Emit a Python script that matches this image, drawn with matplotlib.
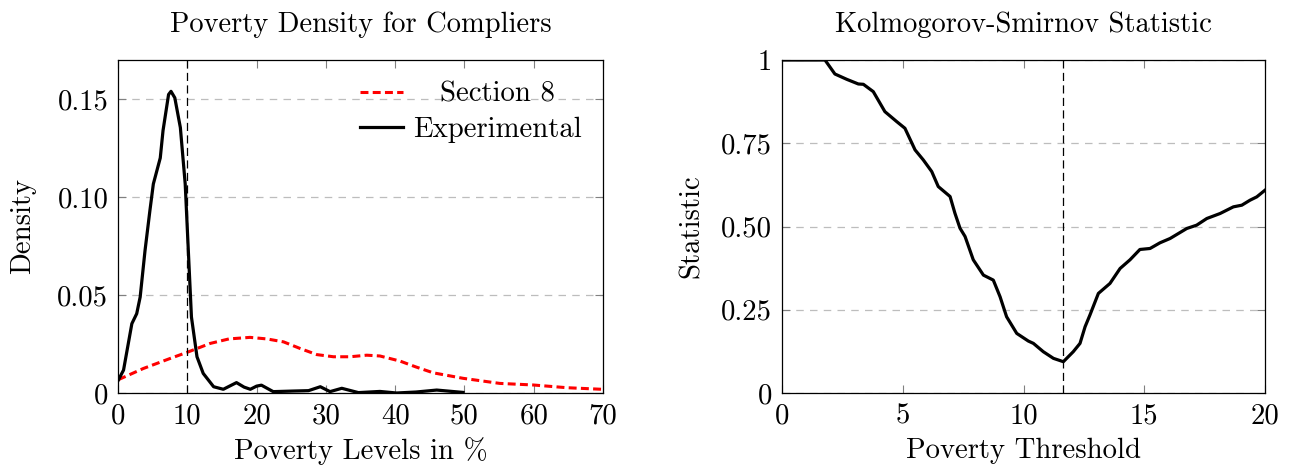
import matplotlib
matplotlib.use("Agg")
import matplotlib.pyplot as plt

plt.rcParams['font.family'] = ['cmr10', 'DejaVu Serif']
plt.rcParams['axes.formatter.use_mathtext'] = True
plt.rcParams['mathtext.fontset'] = 'cm'

# ---------------- data ----------------
exp_x = [0.05, 0.8, 2.0, 2.7, 3.2, 3.9, 4.6, 5.1, 6.1, 6.5, 7.3, 7.65, 8.2, 9.0, 9.7,
         10.15, 10.6, 11.4, 12.3, 13.8, 15.2, 17.1, 18.2, 19.1, 20.0, 20.7, 22.4, 25.3,
         27.5, 29.2, 30.6, 32.3, 34.7, 37.8, 40.2, 43.0, 46.0, 49.8]
exp_y = [0.0066, 0.0117, 0.0354, 0.0405, 0.049, 0.0727, 0.093, 0.1067, 0.120, 0.134,
         0.1524, 0.154, 0.1507, 0.1355, 0.1067, 0.0727, 0.0388, 0.0185, 0.010, 0.0032,
         0.0019, 0.0053, 0.0030, 0.0019, 0.0035, 0.004, 0.0007, 0.001, 0.0012, 0.0032,
         0.0007, 0.0024, 0.0002, 0.0008, 0.0, 0.0005, 0.0015, 0.0003]

s8_x = [0.05, 3.65, 7.5, 10.15, 13.3, 16.0, 19.05, 21.5, 23.9, 26.3, 28.7, 31.1, 33.5,
        35.9, 37.8, 40.7, 43.0, 45.5, 49.8, 55.1, 59.9, 64.8, 69.8]
s8_y = [0.0068, 0.0125, 0.0176, 0.021, 0.0253, 0.0276, 0.0284, 0.0276, 0.0261, 0.0227,
        0.0196, 0.0185, 0.0185, 0.0193, 0.0189, 0.0163, 0.0133, 0.0103, 0.0075, 0.0049,
        0.0041, 0.0027, 0.0019]

ks_x = [0.0, 0.5, 1.0, 1.5, 1.78, 2.19, 2.68, 3.16, 3.37, 3.78, 4.26, 4.75, 5.09, 5.51,
        5.85, 6.2, 6.47, 6.96, 7.16, 7.37, 7.58, 7.92, 8.34, 8.75, 9.03, 9.3, 9.72,
        10.2, 10.41, 10.82, 11.24, 11.65, 12.06, 12.34, 12.55, 12.75, 13.1, 13.58,
        14.0, 14.41, 14.82, 15.24, 15.65, 16.07, 16.76, 17.17, 17.59, 18.14, 18.69,
        19.04, 19.38, 19.66, 20.0]
ks_y = [1.0, 1.0, 1.0, 1.0, 1.0, 0.958, 0.942, 0.928, 0.927, 0.905, 0.845, 0.815,
        0.795, 0.73, 0.70, 0.665, 0.62, 0.59, 0.54, 0.495, 0.47, 0.40, 0.354, 0.339,
        0.289, 0.229, 0.179, 0.156, 0.149, 0.124, 0.104, 0.094, 0.124, 0.149, 0.199,
        0.234, 0.299, 0.329, 0.374, 0.40, 0.431, 0.434, 0.451, 0.464, 0.494, 0.504,
        0.524, 0.539, 0.559, 0.564, 0.579, 0.589, 0.609]

left_xticks = [0, 10, 20, 30, 40, 50, 60, 70]
left_yticks = [0, 0.05, 0.10, 0.15]
left_yticklabels = ['0', '0.05', '0.10', '0.15']
right_xticks = [0, 5, 10, 15, 20]
right_yticks = [0, 0.25, 0.5, 0.75, 1.0]
right_yticklabels = ['0', '0.25', '0.50', '0.75', '1']
left_vline = 10
right_vline = 11.65

# ---------------- figure ----------------
fig = plt.figure(figsize=(12.95, 4.72), dpi=100)
ax1 = fig.add_axes([118/1295, 79/472, 485/1295, 333/472])
ax2 = fig.add_axes([782/1295, 79/472, 483/1295, 333/472])

FS = 20.7
TFS = 20.5

def style(ax):
    for s in ax.spines.values():
        s.set_linewidth(0.9)
        s.set_color('black')
    ax.tick_params(direction='in', length=6, width=0.8, color='#808080',
                   top=True, right=True, labelsize=FS, pad=7)
    ax.grid(axis='y', linestyle=(0, (6, 5)), color='#bdbdbd', linewidth=0.9)
    ax.set_axisbelow(True)

# left
ax1.plot(s8_x, s8_y, color='#ff0000', linestyle=(0, (2.6, 1.4)), linewidth=2.2,
         label='Section 8', dash_capstyle='butt')
ax1.plot(exp_x, exp_y, color='black', linewidth=2.3, label='Experimental',
         solid_joinstyle='round')
ax1.axvline(left_vline, color='black', linestyle=(0, (6.5, 3.5)), linewidth=0.9)
ax1.set_xlim(0, 70)
ax1.set_ylim(0, 0.17)
ax1.set_xticks(left_xticks)
ax1.set_xticklabels([str(v) for v in left_xticks])
ax1.set_yticks(left_yticks)
ax1.set_yticklabels(left_yticklabels)
style(ax1)
ax1.set_title('Poverty Density for Compliers', fontsize=TFS, pad=20)
ax1.set_xlabel('Poverty Levels in %', fontsize=FS, labelpad=6)
ax1.set_ylabel('Density', fontsize=FS, labelpad=15)
leg = ax1.legend(loc='upper right', frameon=False, fontsize=FS, handlelength=1.5,
                 handletextpad=0.35, labelspacing=0.32, borderaxespad=0.55,
                 borderpad=0.2)

# right
ax2.plot(ks_x, ks_y, color='black', linewidth=2.3, solid_joinstyle='round')
ax2.axvline(right_vline, color='black', linestyle=(0, (6.5, 3.5)), linewidth=0.9)
ax2.set_xlim(0, 20)
ax2.set_ylim(0, 1)
ax2.set_xticks(right_xticks)
ax2.set_xticklabels([str(v) for v in right_xticks])
ax2.set_yticks(right_yticks)
ax2.set_yticklabels(right_yticklabels)
style(ax2)
ax2.set_title('Kolmogorov-Smirnov Statistic', fontsize=TFS, pad=20)
ax2.set_xlabel('Poverty Threshold', fontsize=FS, labelpad=6)
ax2.set_ylabel('Statistic', fontsize=FS, labelpad=12)

# center legend texts within the text column (as in the reference)
fig.canvas.draw()
r = fig.canvas.get_renderer()
texts = leg.get_texts()
widths = [t.get_window_extent(r).width for t in texts]
wmax = max(widths)
rows = leg._legend_handle_box.get_children()[0].get_children()
for row, w in zip(rows, widths):
    row.sep = row.sep + (wmax - w) / 2 * 72.0 / fig.dpi

fig.savefig('out.png', dpi=100)
